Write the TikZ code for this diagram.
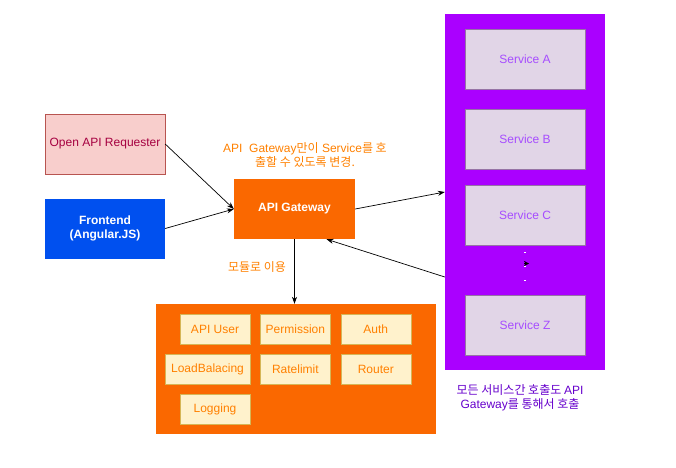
\documentclass[tikz,border=0pt]{standalone}
\usepackage{fontspec}
\setmainfont{Liberation Sans}
\newfontfamily\kr{Noto Sans CJK KR}
\usepackage{xcolor}
\usetikzlibrary{positioning,arrows.meta}
\definecolor{reqfill}{HTML}{F8CECC}
\definecolor{reqline}{HTML}{B85450}
\definecolor{reqtext}{HTML}{A50040}
\definecolor{feblue}{HTML}{0050EF}
\definecolor{gworange}{HTML}{FA6800}
\definecolor{modfill}{HTML}{FFF2CC}
\definecolor{modline}{HTML}{D6B656}
\definecolor{notetext}{HTML}{FF8000}
\definecolor{poolpurple}{HTML}{AA00FF}
\definecolor{svcfill}{HTML}{E1D5E7}
\definecolor{svcline}{HTML}{9673A6}
\definecolor{svctext}{HTML}{A64DFF}
\definecolor{calltext}{HTML}{6600CC}

\begin{document}
\begin{tikzpicture}[x=1pt,y=-1pt,
   every node/.style={font=\fontsize{12}{14}\selectfont},
   box/.style={rectangle,minimum width=120pt,minimum height=60pt,inner sep=0pt},
   svc/.style={box,fill=svcfill,draw=svcline,text=svctext},
   mod/.style={rectangle,minimum width=70pt,minimum height=30pt,inner sep=0pt,
      fill=modfill,draw=modline,text=notetext},
   link/.style={-{Stealth[length=7pt,width=5pt]},line width=0.7pt}]
   \useasboundingbox (0,0) rectangle (676,467);

   % service pool
   \node[rectangle,fill=poolpurple,minimum width=160pt,minimum height=356pt] (pool) at (525,192) {};
   \node[svc] (sA) at (525,59) {Service A};
   \node[svc] (sB) [below=20pt of sA] {Service B};
   \node[svc] (sC) [below=15pt of sB] {Service C};
   \node[svc] (sZ) [below=50pt of sC] {Service Z};
   \foreach \y in {253,267,281}
      \fill[white] (524,\y) rectangle +(2,-1.2);
   \draw[-{Stealth[length=5pt,width=5pt]}] (524,263.5) -- (529,263.5);
   \node[text=calltext,align=center] (callnote) at (520,398) {\kr 모든 서비스간 호출도 \rm API\\Gateway\kr 를 통해서 호출};

   % clients and gateway
   \node[box,fill=reqfill,draw=reqline,text=reqtext] (oar) at (105,144) {Open API Requester};
   \node[box,fill=feblue,text=white,font=\fontsize{12}{14}\selectfont\bfseries,align=center] (fe) at (105,228.5) {Frontend\\(Angular.JS)};
   \node[box,minimum width=121pt,fill=gworange,text=white,font=\fontsize{12}{14}\selectfont\bfseries] (gw) at (294.5,209) {API Gateway};
   \node[text=notetext,align=center] (gwnote) at (305,155) {API\ \ Gateway{\kr 만이} Service{\kr 를 호}\\{\kr 출할 수 있도록 변경.}};
   \node[text=notetext] (modnote) at (257,267) {\kr 모듈로 이용};

   % modules
   \node[rectangle,fill=gworange,minimum width=280pt,minimum height=130pt] (mods) at (296,369) {};
   \node[mod] (apiuser) at (215,329) {API User};
   \node[mod] (perm) [right=10pt of apiuser] {Permission};
   \node[mod] (auth) [right=10pt of perm] {Auth};
   \node[mod,minimum width=85pt] (lb) at (207.5,369) {LoadBalacing};
   \node[mod] (rate) [below=10pt of perm] {Ratelimit};
   \node[mod] (router) [below=10pt of auth] {Router};
   \node[mod] (logging) at (215,409) {Logging};

   \draw[link] (oar.east) -- (gw.west);
   \draw[link] (fe.east) -- (gw.west);
   \draw[link] (gw.east) -- (pool.west);
   \draw[link] ([yshift=-85pt]pool.west) -- ([xshift=32pt]gw.south);
   \draw[link] (gw.south) -- (gw.south |- mods.north);
\end{tikzpicture}
\end{document}
